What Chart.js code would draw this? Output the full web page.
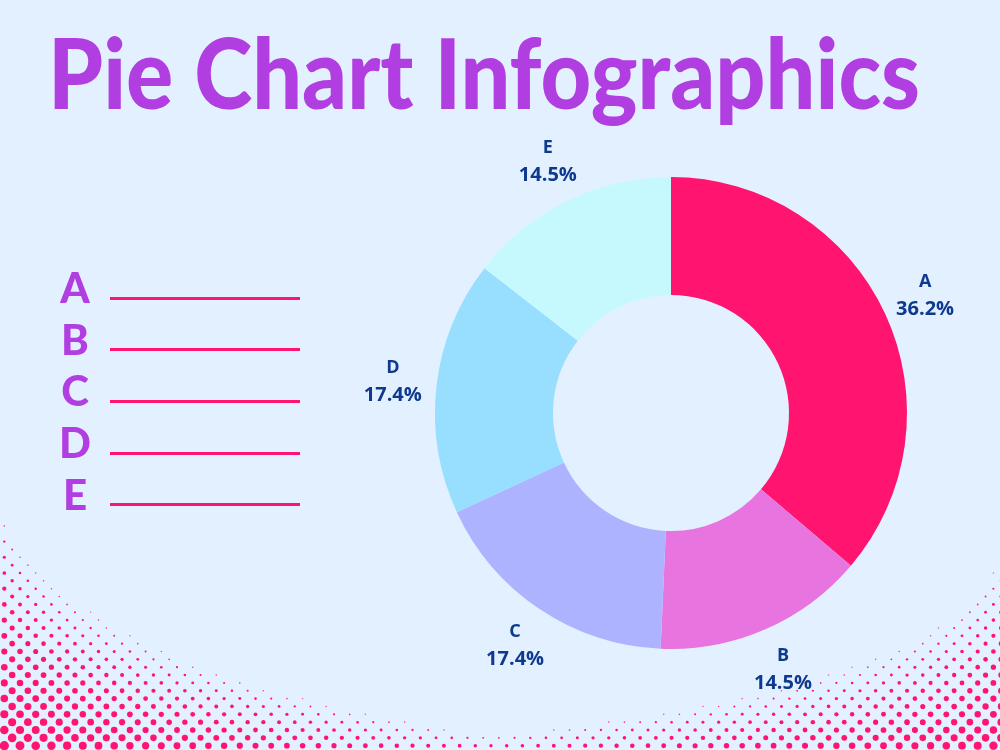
<!DOCTYPE html>
<html>
<head>
<meta charset="utf-8">
<script src="https://cdn.jsdelivr.net/npm/chart.js@4.4.3/dist/chart.umd.min.js"></script>
<style>
  html, body { margin: 0; padding: 0; }
  body { width: 1000px; height: 750px; background: #e3f0ff; position: relative; overflow: hidden; }
  #dots { position: absolute; left: 0; top: 0; }
  #title {
    position: absolute; left: 48px; top: 14px; margin: 0;
    font-family: Lato, 'Open Sans', sans-serif; font-weight: 900; font-size: 97px;
    color: #b13ee0; white-space: nowrap; transform-origin: left top; line-height: 1.2;
  }
  .key { position: absolute; left: 50px; width: 50px; text-align: center;
    font-family: Lato, sans-serif; font-weight: 900; font-size: 42px; color: #b13ee0; line-height: 1; }
  .rule { position: absolute; left: 110px; width: 190px; height: 3px; background: #ff1470; }
  #wrap { position: absolute; left: 321px; top: 63px; width: 700px; height: 700px; }
</style>
</head>
<body>
<canvas id="dots" width="1000" height="750"></canvas>
<h1 id="title">Pie Chart Infographics</h1>
<div id="keys"></div>
<div id="wrap"><canvas id="chart" width="700" height="700"></canvas></div>
<script>
  var CATEGORIES = ['A', 'B', 'C', 'D', 'E'];
  var VALUES = [36.2, 14.5, 17.4, 17.4, 14.5];
  var COLORS = ['#ff1470', '#e874df', '#adb3ff', '#97deff', '#c6f9fd'];

  // fit title to its width in the reference
  var title = document.getElementById('title');
  var tw = title.getBoundingClientRect().width;
  title.style.transform = 'scaleX(' + (872 / tw) + ')';

  // left legend: letters + blank lines
  var keys = document.getElementById('keys');
  CATEGORIES.forEach(function (c, i) {
    var k = document.createElement('div');
    k.className = 'key';
    k.textContent = c;
    k.style.top = (266 + i * 51.7) + 'px';
    keys.appendChild(k);
    var r = document.createElement('div');
    r.className = 'rule';
    r.style.top = (296.5 + i * 51.7) + 'px';
    keys.appendChild(r);
  });

  // halftone decoration in the bottom corners
  (function () {
    var ctx = document.getElementById('dots').getContext('2d');
    function corner(dx, h, Lx, Ly, p, rmax) {
      var s = Math.pow(dx / Lx, p) + Math.pow(h / Ly, p);
      if (s >= 1) return 0;
      return rmax * Math.pow(1 - s, 0.5);
    }
    var pitch = 15.7, rowH = 7.85;
    ctx.fillStyle = '#ff1470';
    for (var row = 0; row < 40; row++) {
      var y = 745.7 - row * rowH;
      var off = (row % 2 === 0) ? 4.3 : 12.15;
      for (var x = off; x < 1005; x += pitch) {
        var h = Math.max(0, 750 - y);
        var r = Math.max(
          corner(x, h, 700, 250, 0.6, 5),
          corner(Math.max(0, 1000 - x), h, 850, 205, 0.55, 4.6)
        );
        if (r <= 0.4) continue;
        ctx.globalAlpha = Math.min(1, 0.3 + r / 1.4);
        ctx.beginPath();
        ctx.arc(x, y, Math.max(r, 0.8), 0, Math.PI * 2);
        ctx.fill();
      }
    }
    ctx.globalAlpha = 1;
  })();

  var sliceLabels = {
    id: 'sliceLabels',
    afterDatasetsDraw: function (chart) {
      var ctx = chart.ctx;
      var meta = chart.getDatasetMeta(0);
      ctx.save();
      ctx.fillStyle = '#0d3a8e';
      ctx.textAlign = 'center';
      ctx.textBaseline = 'middle';
      meta.data.forEach(function (arc, i) {
        var p = arc.getProps(['x', 'y', 'startAngle', 'endAngle', 'outerRadius'], true);
        var mid = (p.startAngle + p.endAngle) / 2;
        var rr = p.outerRadius + 44;
        var cx = p.x + Math.cos(mid) * rr;
        var cy = p.y + Math.sin(mid) * rr;
        ctx.font = 'bold 18px "Open Sans", sans-serif';
        ctx.fillText(CATEGORIES[i], cx, cy - 14);
        ctx.font = 'bold 20px "Open Sans", sans-serif';
        ctx.fillText(VALUES[i].toFixed(1) + '%', cx, cy + 14);
      });
      ctx.restore();
    }
  };

  new Chart(document.getElementById('chart'), {
    type: 'doughnut',
    data: {
      labels: CATEGORIES,
      datasets: [{ data: VALUES, backgroundColor: COLORS, borderWidth: 0 }]
    },
    options: {
      responsive: false,
      animation: false,
      cutout: '50%',
      layout: { padding: 114 },
      plugins: { legend: { display: false }, tooltip: { enabled: false } }
    },
    plugins: [sliceLabels]
  });
</script>
</body>
</html>
